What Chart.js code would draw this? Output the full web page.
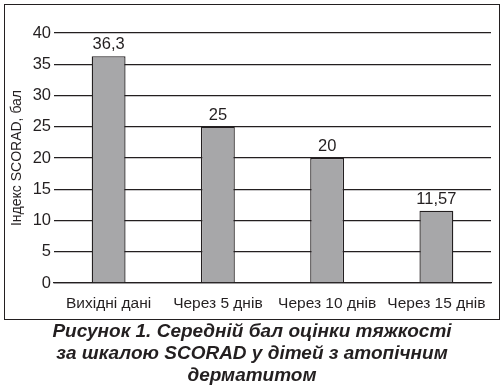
<!DOCTYPE html>
<html>
<head>
<meta charset="utf-8">
<script src="https://cdn.jsdelivr.net/npm/chart.js@4"></script>
<style>
  html, body { margin: 0; padding: 0; background: #fff; }
  #wrap { position: relative; width: 504px; height: 387px; overflow: hidden; }
  #frame { position: absolute; left: 4px; top: 4px; width: 494px; height: 314px; border: 1.5px solid #231f20; }
  #box { position: absolute; left: 0; top: 0; width: 504px; height: 322px; }
  #caption {
    position: absolute; left: 0; top: 320px; width: 504px; text-align: center;
    font-family: 'Liberation Sans', Arial, sans-serif; font-weight: bold; font-style: italic;
    font-size: 19px; line-height: 22px; color: #231f20;
  }
</style>
</head>
<body>
<div id="wrap">
  <div id="frame"></div>
  <div id="box"><canvas id="c"></canvas></div>
  <div id="caption">Рисунок 1. Середній бал оцінки тяжкості<br>за шкалою SCORAD у дітей з атопічним<br>дерматитом</div>
</div>
<script>
/* categories + values */
const CATEGORIES = ['Вихідні дані', 'Через 5 днів', 'Через 10 днів', 'Через 15 днів'];
const SCORES = [36.3, 25, 20, 11.57];
const Y_TICKS = [0, 5, 10, 15, 20, 25, 30, 35, 40];

const INK = '#231f20';
const BAR = '#a7a7a9';
const FONT = "'Liberation Sans', Arial, sans-serif";

const fmt = v => String(v).replace('.', ',');

/* value labels above each bar */
const valueLabels = {
  id: 'valueLabels',
  afterDatasetsDraw(chart) {
    const ctx = chart.ctx;
    const meta = chart.getDatasetMeta(0);
    ctx.save();
    ctx.fillStyle = INK;
    ctx.font = `16.5px ${FONT}`;
    ctx.textAlign = 'center';
    ctx.textBaseline = 'bottom';
    meta.data.forEach((bar, i) => {
      ctx.fillText(fmt(SCORES[i]), bar.x, bar.y - 3);
    });
    ctx.restore();
  }
};

new Chart(document.getElementById('c'), {
  type: 'bar',
  data: {
    labels: CATEGORIES,
    datasets: [{
      data: SCORES,
      backgroundColor: BAR,
      borderColor: INK,
      borderWidth: 1.3,
      barPercentage: 0.31,
      categoryPercentage: 1
    }]
  },
  options: {
    responsive: true,
    maintainAspectRatio: false,
    animation: false,
    layout: { padding: { top: 33, right: 13, left: 9, bottom: 0 } },
    plugins: { legend: { display: false }, tooltip: { enabled: false } },
    scales: {
      x: {
        grid: { display: false },
        border: { color: INK, width: 1.3 },
        ticks: { color: INK, font: { family: FONT, size: 15.5 }, padding: 3, maxRotation: 0, autoSkip: false },
        afterFit: s => { s.height = 39; }
      },
      y: {
        min: 0, max: 40,
        afterBuildTicks: s => { s.ticks = Y_TICKS.map(v => ({ value: v })); },
        grid: { color: INK, lineWidth: 1.3, drawTicks: false },
        border: { display: false },
        ticks: { color: INK, font: { family: FONT, size: 16.5 }, padding: 3 },
        title: { display: true, text: 'Індекс SCORAD, бал', color: INK, font: { family: FONT, size: 14 }, padding: { top: 0, bottom: 0 } },
        afterFit: s => { s.width = 45; }
      }
    }
  },
  plugins: [valueLabels]
});
</script>
</body>
</html>
